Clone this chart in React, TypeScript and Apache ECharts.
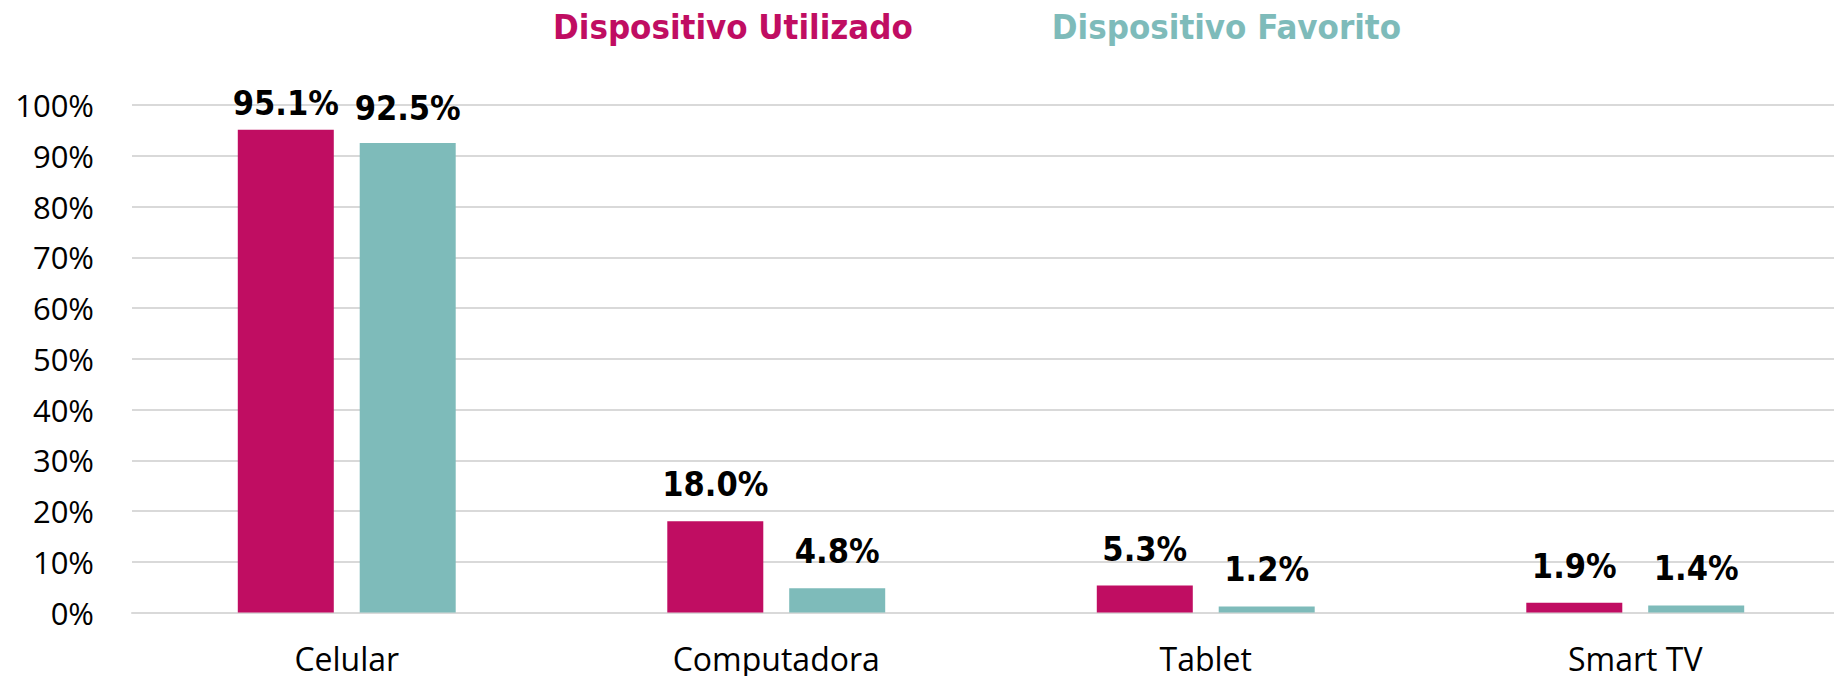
import React, { useEffect, useRef } from "react";
import * as echarts from "echarts";

const categories = ["Celular", "Computadora", "Tablet", "Smart TV"];
const utilizado = [95.1, 18.0, 5.3, 1.9];
const favorito = [92.5, 4.8, 1.2, 1.4];
const seriesNames = ["Dispositivo Utilizado", "Dispositivo Favorito"];

const PINK = "#C00D62";
const TEAL = "#7EBBBA";
const BOLD_FONT = "'DejaVu Sans Condensed', 'DejaVu Sans', sans-serif";
const REG_FONT = "'Open Sans', 'Noto Sans', sans-serif";

export default function App() {
  const ref = useRef<HTMLDivElement>(null);
  useEffect(() => {
    document.body.style.margin = "0";
    if (!ref.current) return;
    const chart = echarts.init(ref.current, null, { renderer: "svg" });
    const label = {
      show: true,
      position: "top",
      distance: 20,
      fontFamily: BOLD_FONT,
      fontWeight: "bold",
      fontSize: 34,
      color: "#000000",
      formatter: (p: any) => p.value.toFixed(1) + "%",
    };
    const toData = (arr: number[], topDistance: number) =>
      arr.map((v, i) =>
        i === 0 ? { value: v, label: { distance: topDistance } } : { value: v }
      );
    chart.setOption({
      animation: false,
      backgroundColor: "#ffffff",
      legend: {
        left: 543,
        top: 4,
        icon: "rect",
        itemWidth: 0,
        itemHeight: 0,
        itemGap: 134,
        selectedMode: false,
        data: [
          { name: seriesNames[0], textStyle: { color: PINK } },
          { name: seriesNames[1], textStyle: { color: TEAL } },
        ],
        textStyle: {
          fontFamily: BOLD_FONT,
          fontWeight: "bold",
          fontSize: 34.5,
        },
      },
      grid: { left: 132, top: 105, right: 0, bottom: 63.5, containLabel: false },
      xAxis: {
        type: "category",
        data: categories,
        axisLine: { lineStyle: { color: "#D9D9D9", width: 2 } },
        axisTick: { show: false },
        axisLabel: {
          fontFamily: REG_FONT,
          fontSize: 32,
          lineHeight: 30,
          color: "#000000",
          margin: 31,
        },
      },
      yAxis: {
        type: "value",
        min: 0,
        max: 100,
        interval: 10,
        axisLine: { show: false },
        axisTick: { show: false },
        splitLine: { lineStyle: { color: "#D9D9D9", width: 2 } },
        axisLabel: {
          formatter: "{value}%",
          fontFamily: REG_FONT,
          fontSize: 31,
          color: "#000000",
          margin: 38,
        },
      },
      series: [
        {
          name: seriesNames[0],
          type: "bar",
          data: toData(utilizado, 10),
          barWidth: 96,
          barGap: "27%",
          itemStyle: { color: PINK },
          label,
        },
        {
          name: seriesNames[1],
          type: "bar",
          data: toData(favorito, 18),
          barWidth: 96,
          barGap: "27%",
          itemStyle: { color: TEAL },
          label,
        },
      ],
    });
    return () => chart.dispose();
  }, []);
  return (
    <div style={{ width: 1834, height: 676, overflow: "hidden" }}>
      <div ref={ref} style={{ width: 1850, height: 676 }} />
    </div>
  );
}
